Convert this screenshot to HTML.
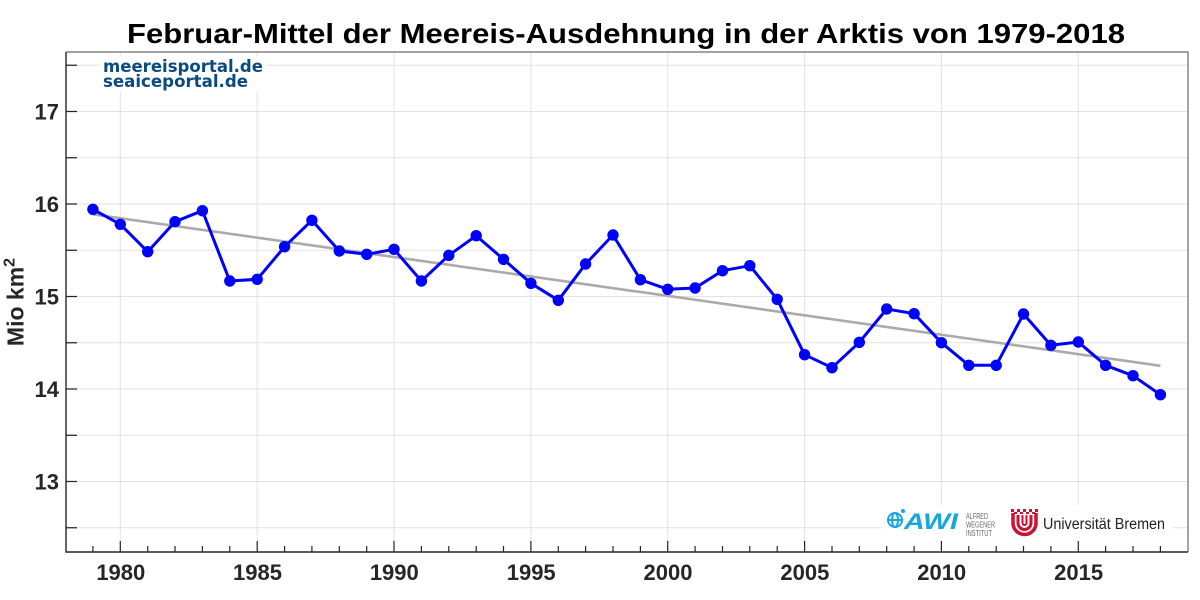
<!DOCTYPE html>
<html><head><meta charset="utf-8"><style>
html,body{margin:0;padding:0;background:#fff;}
svg{display:block;}
</style></head><body>
<svg width="1200" height="600" viewBox="0 0 1200 600" xmlns="http://www.w3.org/2000/svg" font-family="Liberation Sans, Arial, sans-serif">
<rect width="1200" height="600" fill="#fff"/>
<!-- title -->
<text x="626" y="43" text-anchor="middle" font-size="28" font-weight="bold" fill="#000" textLength="998" lengthAdjust="spacingAndGlyphs">Februar-Mittel der Meereis-Ausdehnung in der Arktis von 1979-2018</text>
<!-- grid -->
<g stroke="#e2e2e2" stroke-width="1" fill="none">
<path d="M120.3 52V552M257.2 52V552M394 52V552M530.9 52V552M667.7 52V552M804.6 52V552M941.4 52V552M1078.3 52V552"/>
<path d="M66 65.25H1188M66 111.5H1188M66 157.75H1188M66 204H1188M66 250.25H1188M66 296.5H1188M66 342.75H1188M66 389H1188M66 435.25H1188M66 481.5H1188M66 527.75H1188"/>
</g>
<!-- website box -->
<rect x="100" y="56" width="167" height="36" fill="#fff"/>
<text x="103" y="72" font-family="DejaVu Sans, Verdana, sans-serif" font-size="16.5" font-weight="bold" fill="#0b4a80" textLength="160" lengthAdjust="spacingAndGlyphs">meereisportal.de</text>
<text x="103" y="87" font-family="DejaVu Sans, Verdana, sans-serif" font-size="16.5" font-weight="bold" fill="#0b4a80" textLength="145" lengthAdjust="spacingAndGlyphs">seaiceportal.de</text>
<!-- logos background -->
<rect x="883" y="505" width="290" height="36" fill="#fff"/>
<!-- AWI logo -->
<g fill="none" stroke="#18a6de" stroke-width="2">
<circle cx="895" cy="520" r="7"/>
<ellipse cx="895" cy="520" rx="3" ry="7"/>
<path d="M888 520H902"/>
</g>
<circle cx="903" cy="511" r="2" fill="#18a6de"/>
<text x="904" y="529" font-size="22" font-weight="bold" font-style="italic" fill="#18a6de" textLength="54" lengthAdjust="spacingAndGlyphs">AWI</text>
<g font-size="8" fill="#666">
<text x="966" y="519" textLength="22" lengthAdjust="spacingAndGlyphs">ALFRED</text>
<text x="966" y="527.5" textLength="29" lengthAdjust="spacingAndGlyphs">WEGENER</text>
<text x="966" y="536" textLength="26" lengthAdjust="spacingAndGlyphs">INSTITUT</text>
</g>
<!-- Uni Bremen logo -->
<g fill="none" stroke="#cc1230">
<path d="M1013 513V523A11.5 11.5 0 0 0 1036 523V513" stroke-width="3.5"/>
<path d="M1018 515V523A6.5 6.5 0 0 0 1031 523V515" stroke-width="3"/>
<path d="M1022.5 515V523A2 2 0 0 0 1026.5 523V515" stroke-width="2"/>
</g>
<g fill="#cc1230">
<rect x="1011" y="509" width="3" height="3"/><rect x="1017" y="509" width="3" height="3"/><rect x="1023" y="509" width="3" height="3"/><rect x="1029" y="509" width="3" height="3"/><rect x="1035" y="509" width="3" height="3"/>
<rect x="1014" y="512" width="3" height="2"/><rect x="1020" y="512" width="3" height="2"/><rect x="1026" y="512" width="3" height="2"/><rect x="1032" y="512" width="3" height="2"/>
</g>
<text x="1043" y="529" font-size="15.5" fill="#222" textLength="122" lengthAdjust="spacingAndGlyphs">Universität Bremen</text>
<!-- axes box -->
<path d="M66 52H1188V552" fill="none" stroke="#6a6a6a" stroke-width="1.2"/>
<path d="M66 52V552H1188" fill="none" stroke="#262626" stroke-width="1.4"/>
<!-- y ticks -->
<path d="M66 65.25h11M66 111.5h11M66 157.75h11M66 204h11M66 250.25h11M66 296.5h11M66 342.75h11M66 389h11M66 435.25h11M66 481.5h11M66 527.75h11" stroke="#262626" stroke-width="1.2"/>
<!-- x ticks minor -->
<path stroke="#262626" stroke-width="1.2" d="M92.9 552v-6M147.7 552v-6M175 552v-6M202.4 552v-6M229.8 552v-6M284.6 552v-6M311.9 552v-6M339.3 552v-6M366.7 552v-6M421.4 552v-6M448.8 552v-6M476.2 552v-6M503.5 552v-6M558.3 552v-6M585.6 552v-6M613 552v-6M640.4 552v-6M695.1 552v-6M722.5 552v-6M749.8 552v-6M777.2 552v-6M832 552v-6M859.3 552v-6M886.7 552v-6M914.1 552v-6M968.8 552v-6M996.2 552v-6M1023.5 552v-6M1050.9 552v-6M1105.6 552v-6M1133 552v-6M1160.4 552v-6"/>
<path stroke="#262626" stroke-width="1.2" d="M120.3 552v-11M257.2 552v-11M394 552v-11M530.9 552v-11M667.7 552v-11M804.6 552v-11M941.4 552v-11M1078.3 552v-11"/>
<!-- y labels -->
<g font-size="22" font-weight="bold" fill="#262626" text-anchor="end">
<text x="59" y="119.5">17</text>
<text x="59" y="212">16</text>
<text x="59" y="304.5">15</text>
<text x="59" y="397">14</text>
<text x="59" y="489.5">13</text>
</g>
<!-- x labels -->
<g font-size="22" font-weight="bold" fill="#262626" text-anchor="middle">
<text x="120.8" y="580">1980</text>
<text x="257.5" y="580">1985</text>
<text x="394.3" y="580">1990</text>
<text x="531.2" y="580">1995</text>
<text x="668" y="580">2000</text>
<text x="804.9" y="580">2005</text>
<text x="941.7" y="580">2010</text>
<text x="1078.6" y="580">2015</text>
</g>
<!-- y axis label -->
<text transform="translate(23.5,302) rotate(-90)" text-anchor="middle" font-size="23" font-weight="bold" fill="#262626">Mio km<tspan font-size="16" dy="-9">2</tspan></text>
<!-- trend -->
<path d="M92.9 214.3L1160.4 365.8" stroke="#aaaaaa" stroke-width="2.6" fill="none"/>
<!-- data -->
<polyline fill="none" stroke="#0000ff" stroke-width="3" stroke-linejoin="round" points="92.9,209.3 120.3,224.3 147.7,251.7 175,221.7 202.4,210.7 229.8,281 257.2,279.3 284.6,246.7 311.9,220.3 339.3,251 366.7,254.3 394,249.3 421.4,281 448.8,255.3 476.2,235.7 503.5,259.3 530.9,283.3 558.3,300.3 585.6,264 613,235 640.4,279.7 667.7,289.3 695.1,288 722.5,270.7 749.8,265.7 777.2,299.3 804.6,354.7 832,367.7 859.3,342.3 886.7,309 914.1,313.7 941.4,342.7 968.8,365.3 996.2,365.3 1023.5,314 1050.9,345.3 1078.3,342 1105.6,365.3 1133,375.7 1160.4,394.7"/>
<g fill="#0000ff">
<circle cx="92.9" cy="209.3" r="5.7"/><circle cx="120.3" cy="224.3" r="5.7"/><circle cx="147.7" cy="251.7" r="5.7"/><circle cx="175" cy="221.7" r="5.7"/><circle cx="202.4" cy="210.7" r="5.7"/><circle cx="229.8" cy="281" r="5.7"/><circle cx="257.2" cy="279.3" r="5.7"/><circle cx="284.6" cy="246.7" r="5.7"/><circle cx="311.9" cy="220.3" r="5.7"/><circle cx="339.3" cy="251" r="5.7"/><circle cx="366.7" cy="254.3" r="5.7"/><circle cx="394" cy="249.3" r="5.7"/><circle cx="421.4" cy="281" r="5.7"/><circle cx="448.8" cy="255.3" r="5.7"/><circle cx="476.2" cy="235.7" r="5.7"/><circle cx="503.5" cy="259.3" r="5.7"/><circle cx="530.9" cy="283.3" r="5.7"/><circle cx="558.3" cy="300.3" r="5.7"/><circle cx="585.6" cy="264" r="5.7"/><circle cx="613" cy="235" r="5.7"/><circle cx="640.4" cy="279.7" r="5.7"/><circle cx="667.7" cy="289.3" r="5.7"/><circle cx="695.1" cy="288" r="5.7"/><circle cx="722.5" cy="270.7" r="5.7"/><circle cx="749.8" cy="265.7" r="5.7"/><circle cx="777.2" cy="299.3" r="5.7"/><circle cx="804.6" cy="354.7" r="5.7"/><circle cx="832" cy="367.7" r="5.7"/><circle cx="859.3" cy="342.3" r="5.7"/><circle cx="886.7" cy="309" r="5.7"/><circle cx="914.1" cy="313.7" r="5.7"/><circle cx="941.4" cy="342.7" r="5.7"/><circle cx="968.8" cy="365.3" r="5.7"/><circle cx="996.2" cy="365.3" r="5.7"/><circle cx="1023.5" cy="314" r="5.7"/><circle cx="1050.9" cy="345.3" r="5.7"/><circle cx="1078.3" cy="342" r="5.7"/><circle cx="1105.6" cy="365.3" r="5.7"/><circle cx="1133" cy="375.7" r="5.7"/><circle cx="1160.4" cy="394.7" r="5.7"/>
</g>
</svg>
</body></html>
